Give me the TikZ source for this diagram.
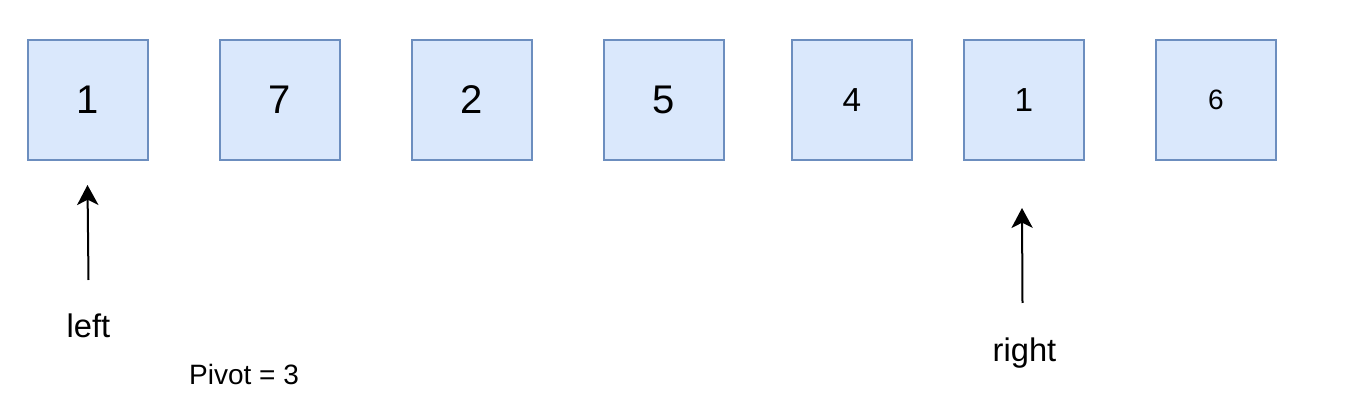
\documentclass[tikz,border=0pt]{standalone}
\usepackage{fontspec}
\setmainfont{Liberation Sans}
\usetikzlibrary{arrows.meta,positioning}
\definecolor{cellcolor}{RGB}{218,232,252}
\definecolor{cellborder}{RGB}{108,142,191}
\tikzset{
    cell/.style={
        rectangle,
        minimum width=90pt,
        minimum height=90pt,
        inner sep=0pt,
        text centered,
        draw=cellborder,
        fill=cellcolor,
        line width=1.5pt,
        font=\fontsize{30}{34}\selectfont
    },
    midcell/.style={cell, font=\fontsize{25}{29}\selectfont},
    smallcell/.style={cell, font=\fontsize{21}{25}\selectfont},
    pointer/.style={-{Stealth[length=15pt,width=16pt,inset=4pt]}, line width=1.5pt, color=black},
    label/.style={anchor=base, font=\fontsize{24.5}{28}\selectfont},
    note/.style={anchor=base, font=\fontsize{21}{25}\selectfont}
}
\begin{document}
\begin{tikzpicture}[x=0.75pt,y=-0.75pt]
    \useasboundingbox (0,0) rectangle (1346,409);

    % Array
    \node[cell] (a0) at (88,100) {1};
    \node[cell] (a1) at (280,100) {7};
    \node[cell] (a2) at (472,100) {2};
    \node[cell] (a3) at (664,100) {5};
    \node[midcell] (a4) at (852,100) {4};
    \node[midcell] (a5) at (1024,100) {1};
    \node[smallcell] (a6) at (1216,100) {6};

    % Pointers
    \node[label] (left) at (88.5,338) {left};
    \node[label] (right) at (1024.5,362) {right};
    \coordinate (lefttail) at (88.5,280);
    \coordinate (lefttip) at (87.5,185);
    \coordinate (righttail) at (1022.5,303);
    \coordinate (righttip) at (1022,208);
    \draw[pointer] (lefttail) -- (lefttip);
    \draw[pointer] (righttail) -- (righttip);

    \node[note] (pivot) at (244,385) {Pivot = 3};
\end{tikzpicture}
\end{document}
